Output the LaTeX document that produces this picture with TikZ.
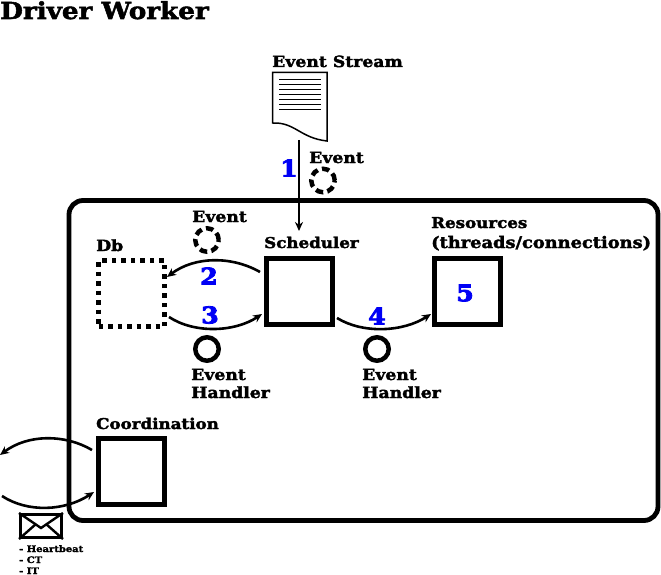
\documentclass[tikz,border=0pt]{standalone}
\usepackage{fontspec}
\setmainfont{DejaVu Serif}[BoldFont=DejaVu Serif Bold]
\newfontfamily\slabfont{DejaVu Serif Bold}[FakeBold=2.2,FakeStretch=1.12]
\newfontfamily\numfont{DejaVu Serif Bold}[FakeBold=3.5,FakeStretch=1.1]
\usetikzlibrary{arrows.meta,calc}
\definecolor{numblue}{RGB}{0,0,245}
\tikzset{
  x=1pt,y=-1pt,
  lbl/.style={anchor=base west,inner sep=0pt,font=\slabfont\fontsize{15.4}{16}\selectfont},
  lblsmall/.style={anchor=base west,inner sep=0pt,font=\slabfont\fontsize{14.9}{16}\selectfont},
  lblwide/.style={anchor=base west,inner sep=0pt,font=\slabfont\fontsize{15.9}{16}\selectfont},
  tinylbl/.style={anchor=base west,inner sep=0pt,font=\slabfont\fontsize{8.9}{10}\selectfont},
  num/.style={inner sep=0pt,text=numblue,font=\numfont\fontsize{23}{26}\selectfont},
  boxa/.style={draw,line width=5pt,minimum width=66pt,minimum height=66pt,inner sep=0pt},
  boxd/.style={boxa,line width=4.5pt,dash pattern=on 4.5pt off 5pt},
  dashc/.style={draw,circle,line width=4.5pt,minimum size=23.5pt,inner sep=0pt,dash pattern=on 7.5pt off 4.4pt},
  solc/.style={draw,circle,line width=4.5pt,minimum size=23.5pt,inner sep=0pt},
  flow/.style={line width=2.6pt,-{Stealth[length=9pt,width=8pt]}},
}
\begin{document}
\begin{tikzpicture}
\useasboundingbox (0,0) rectangle (661,575);
% outer frame
\node[draw,line width=4.8pt,rounded corners=14pt,minimum width=589pt,minimum height=320pt,inner sep=0pt] (frame) at (363.5,360.5) {};
% title
\node[anchor=base west,inner sep=0pt,font=\slabfont\fontsize{23.4}{24}\selectfont] (title) at (0,19) {Driver Worker};
% document
\draw[line width=1.5pt,fill=white] (272.5,72.5) -- (327,72.5) -- (327,141) .. controls (300,138) and (295,122) .. (272.5,123) -- cycle;
\foreach \y in {80,85,90,95,100,105,110} \draw[line width=1pt] (279,\y) -- (321,\y);
\coordinate (docout) at (299,140);
\coordinate (schedin) at (299,231);
\node[lbl] (stream) at (272,67) {Event Stream};
% boxes
\node[boxd] (db) at (131.5,293.5) {};
\node[boxa] (sched) at (299.5,291.5) {};
\node[boxa] (res) at (467,291.5) {};
\node[boxa] (coord) at (131,471) {};
% circles
\node[dashc] (c1) at (323,180.5) {};
\node[dashc] (c2) at (207,240) {};
\node[solc] (c3) at (207,349) {};
\node[solc] (c4) at (377,349) {};
% labels
\node[lbl] (l1) at (309,163) {Event};
\node[lbl] (l2) at (192,222) {Event};
\node[lbl] (l3) at (96,251) {Db};
\node[lblsmall] (l4) at (264,248) {Scheduler};
\node[lblsmall] (l5) at (431,228) {Resources};
\node[lblwide] (l6) at (431,248) {(threads/connections)};
\node[lbl] (l7) at (191,380) {Event};
\node[lbl] (l8) at (191,398) {Handler};
\node[lbl] (l9) at (362,380) {Event};
\node[lbl] (l10) at (362,398) {Handler};
\node[lblsmall] (l11) at (96,429) {Coordination};
% numbers
\node[num] (n1) at (289,168) {1};
\node[num] (n2) at (209,276) {2};
\node[num] (n3) at (210,315) {3};
\node[num] (n4) at (377,316) {4};
\node[num] (n5) at (465,293) {5};
% connectors
\draw[line width=2.4pt,-{Stealth[length=9pt,width=8pt]}] (docout) -- (schedin);
\coordinate (a2s) at (260,272); \coordinate (a2e) at (167,277);
\coordinate (a3s) at (169,317); \coordinate (a3e) at (262,314);
\coordinate (a4s) at (337,318); \coordinate (a4e) at (431,314);
\coordinate (a5s) at (92,450); \coordinate (a5e) at (0,455);
\coordinate (a6s) at (2,496); \coordinate (a6e) at (94,492);
\draw[flow] (a2s) .. controls (232,256) and (195,256) .. (a2e);
\draw[flow] (a3s) .. controls (195,334) and (235,332) .. (a3e);
\draw[flow] (a4s) .. controls (363,334) and (403,332) .. (a4e);
\draw[flow] (a5s) .. controls (65,434) and (28,434) .. (a5e);
\draw[flow] (a6s) .. controls (28,513) and (65,511) .. (a6e);
% envelope
\node[draw,line width=3pt,minimum width=41pt,minimum height=23pt,inner sep=0pt] (env) at (41,526) {};
\draw[line width=2.4pt] (env.north west) -- (41,528) -- (env.north east);
\draw[line width=2.4pt] (env.south west) -- (36,524);
\draw[line width=2.4pt] (env.south east) -- (46,524);
\node[tinylbl] (m1) at (19,552) {- Heartbeat};
\node[tinylbl] (m2) at (19,563) {- CT};
\node[tinylbl] (m3) at (19,574) {- IT};
\end{tikzpicture}
\end{document}
